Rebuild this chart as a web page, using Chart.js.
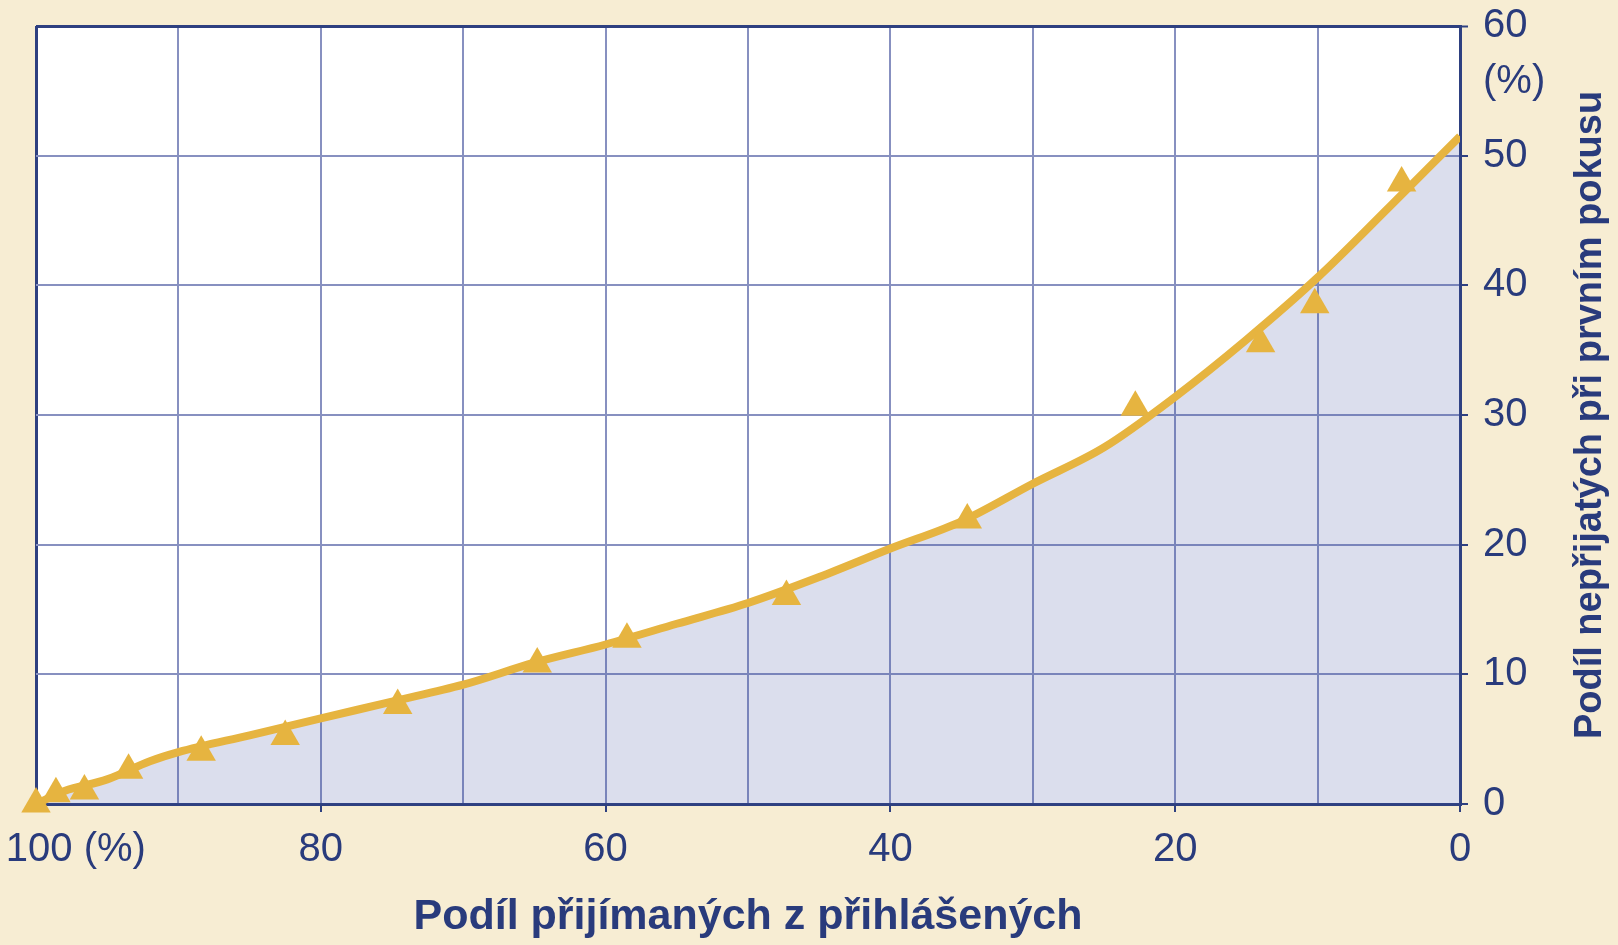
<!DOCTYPE html>
<html><head><meta charset="utf-8">
<script src="https://cdn.jsdelivr.net/npm/chart.js@4"></script>
<style>html,body{margin:0;padding:0;background:#F7EDD3;} canvas{display:block;}</style>
</head><body>
<canvas id="c" width="1618" height="945"></canvas>
<script>
// ---- data ----
const curveX = [100, 98, 95, 92, 90, 85, 80, 75, 70, 65, 60, 55, 50, 45, 40, 35, 30, 25, 20, 15, 10, 5, 0];
const curveY = [0, 1.0, 1.9, 3.3, 4.0, 5.3, 6.6, 7.9, 9.2, 10.9, 12.3, 13.9, 15.5, 17.5, 19.7, 21.8, 24.7, 27.5, 31.4, 35.8, 40.6, 46.0, 51.5];
const markerX = [100, 98.6, 96.6, 93.5, 88.4, 82.5, 74.6, 64.8, 58.5, 47.3, 34.6, 22.8, 14.0, 10.2, 4.1];
const markerY = [0, 0.8, 1.0, 2.6, 4.0, 5.2, 7.6, 10.8, 12.7, 16.0, 21.9, 30.6, 35.5, 38.5, 47.9];
const xTicks = [100, 90, 80, 70, 60, 50, 40, 30, 20, 10, 0];
const xTickLabels = ['', '', '80', '', '60', '', '40', '', '20', '', '0'];
const xFirstLabel = '100 (%)';
const yTicks = [0, 10, 20, 30, 40, 50, 60];
const yTickLabels = ['0', '10', '20', '30', '40', '50', '60'];
const yUnitLabel = '(%)';
const xTitle = 'Podíl přijímaných z přihlášených';
const yTitle = 'Podíl nepřijatých při prvním pokusu';

// ---- style ----
const NAVY = '#293B7C';
const DARK = '#2E4080';
const GRID = '#8790C0';
const GOLD = '#E6B440';
const FONT = "'Liberation Sans', 'Noto Sans', sans-serif";
const X_FIRST_AT = 97.2;   // where the "100 (%)" label is centred
const Y_UNIT_AT = 55.7;    // where the "(%)" label is centred
const NONE = 'rgba(0,0,0,0)';

const plotBg = {
  id: 'plotBg',
  beforeDraw(chart) {
    const a = chart.chartArea, ctx = chart.ctx;
    ctx.save(); ctx.fillStyle = '#FFFFFF';
    ctx.fillRect(a.left, a.top, a.right - a.left, a.bottom - a.top);
    ctx.restore();
  }
};
const yTitlePlugin = {
  id: 'yTitle',
  afterDraw(chart) {
    const a = chart.chartArea, ctx = chart.ctx;
    ctx.save();
    ctx.translate(chart.width - 17, (a.top + a.bottom) / 2);
    ctx.rotate(-Math.PI / 2);
    ctx.font = 'bold 38px ' + FONT;
    ctx.fillStyle = NAVY;
    ctx.textAlign = 'center';
    ctx.textBaseline = 'alphabetic';
    ctx.fillText(yTitle, 0, 0);
    ctx.restore();
  }
};

new Chart(document.getElementById('c'), {
  data: {
    datasets: [
      {
        type: 'scatter',
        data: markerX.map((x, i) => ({ x: x, y: markerY[i] })),
        pointStyle: 'triangle',
        pointRadius: 17,
        pointBackgroundColor: GOLD,
        pointBorderWidth: 0,
        clip: false,
        order: 0
      },
      {
        type: 'line',
        data: curveX.map((x, i) => ({ x: x, y: curveY[i] })),
        borderColor: GOLD,
        borderWidth: 8,
        pointRadius: 0,
        cubicInterpolationMode: 'monotone',
        fill: 'origin',
        backgroundColor: 'rgba(62,82,160,0.19)',
        order: 1
      }
    ]
  },
  options: {
    responsive: false,
    animation: false,
    devicePixelRatio: 1,
    events: [],
    layout: { padding: { left: 36, top: 26, right: 0, bottom: 0 } },
    plugins: { legend: { display: false }, tooltip: { enabled: false } },
    scales: {
      x: {
        type: 'linear', position: 'bottom', reverse: true, min: 0, max: 100,
        afterBuildTicks: (s) => { s.ticks = xTicks.map(v => ({ value: v })).concat([{ value: X_FIRST_AT }]); },
        afterFit: (s) => { s.height = 141; s.paddingLeft = 0; s.paddingRight = 0; },
        ticks: {
          autoSkip: false, maxRotation: 0, padding: 14, color: NAVY,
          font: { family: FONT, size: 40 },
          callback: (v) => {
            if (v === X_FIRST_AT) return xFirstLabel;
            const i = xTicks.indexOf(v);
            return i >= 0 ? xTickLabels[i] : '';
          }
        },
        grid: {
          color: (c) => !c.tick ? GRID : (c.tick.value === X_FIRST_AT ? NONE : (c.tick.value === 100 ? DARK : GRID)),
          lineWidth: (c) => (c.tick && c.tick.value === 100) ? 3 : 2,
          tickColor: (c) => (c.tick && c.tick.value % 20 === 0) ? DARK : NONE,
          tickLength: 8, tickWidth: 2
        },
        border: { display: true, color: DARK, width: 3 },
        title: {
          display: true, text: xTitle, color: NAVY,
          font: { family: FONT, size: 43, weight: 'bold', lineHeight: 1.2 },
          padding: { top: 0, bottom: 2 }
        }
      },
      y: {
        type: 'linear', position: 'right', min: 0, max: 60,
        afterBuildTicks: (s) => { s.ticks = yTicks.map(v => ({ value: v })).concat([{ value: Y_UNIT_AT }]); },
        afterFit: (s) => { s.width = 158; s.paddingTop = 0; s.paddingBottom = 0; },
        ticks: {
          autoSkip: false, padding: 15, color: NAVY,
          font: { family: FONT, size: 40 },
          callback: (v) => {
            if (v === Y_UNIT_AT) return yUnitLabel;
            const i = yTicks.indexOf(v);
            return i >= 0 ? yTickLabels[i] : '';
          }
        },
        grid: {
          color: (c) => !c.tick ? GRID : (c.tick.value === Y_UNIT_AT ? NONE : (c.tick.value === 60 ? DARK : GRID)),
          lineWidth: (c) => (c.tick && c.tick.value === 60) ? 3 : 2,
          tickColor: (c) => (c.tick && c.tick.value === Y_UNIT_AT) ? NONE : DARK,
          tickLength: 8, tickWidth: 2
        },
        border: { display: true, color: DARK, width: 3 }
      }
    }
  },
  plugins: [plotBg, yTitlePlugin]
});
</script>
</body></html>
